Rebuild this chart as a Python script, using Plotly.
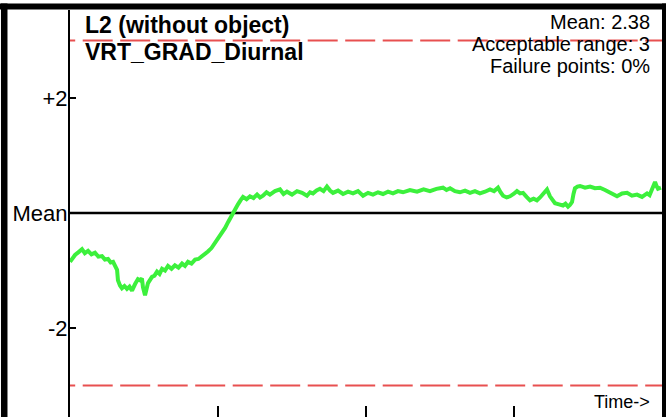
import plotly.graph_objects as go

# ---- data ----
time = [0.000, 0.034, 0.058, 0.081, 0.100, 0.122, 0.145, 0.169, 0.192, 0.216,
        0.236, 0.257, 0.275, 0.291, 0.318, 0.324, 0.338, 0.351, 0.368, 0.385,
        0.402, 0.419, 0.439, 0.459, 0.473, 0.486, 0.493, 0.507, 0.527, 0.554,
        0.571, 0.588, 0.605, 0.622, 0.642, 0.662, 0.686, 0.709, 0.733, 0.757,
        0.777, 0.797, 0.821, 0.845, 0.868, 0.892, 0.912, 0.932, 0.956, 0.980,
        1.004, 1.027, 1.048, 1.068, 1.085, 1.101, 1.118, 1.135, 1.152, 1.169,
        1.193, 1.216, 1.240, 1.264, 1.284, 1.304, 1.328, 1.351, 1.385, 1.419,
        1.443, 1.466, 1.500, 1.534, 1.568, 1.601, 1.622, 1.642, 1.666, 1.689,
        1.713, 1.736, 1.757, 1.777, 1.811, 1.845, 1.879, 1.912, 1.946, 1.980,
        2.014, 2.047, 2.081, 2.115, 2.149, 2.182, 2.216, 2.250, 2.297, 2.345,
        2.389, 2.432, 2.476, 2.520, 2.544, 2.568, 2.601, 2.635, 2.669, 2.703,
        2.736, 2.770, 2.804, 2.838, 2.865, 2.892, 2.909, 2.926, 2.950, 2.973,
        2.997, 3.020, 3.041, 3.061, 3.085, 3.108, 3.132, 3.155, 3.176, 3.196,
        3.210, 3.223, 3.243, 3.260, 3.277, 3.304, 3.331, 3.348, 3.365, 3.378,
        3.392, 3.402, 3.412, 3.429, 3.446, 3.480, 3.514, 3.547, 3.581, 3.615,
        3.649, 3.672, 3.696, 3.730, 3.764, 3.797, 3.831, 3.865, 3.899, 3.916,
        3.932, 3.943, 3.953, 3.963, 3.973, 3.993]

deviation = [-0.85, -0.73, -0.68, -0.63, -0.70, -0.66, -0.72, -0.69, -0.76, -0.75,
             -0.81, -0.80, -0.86, -0.85, -0.99, -1.17, -1.26, -1.31, -1.27, -1.32,
             -1.28, -1.35, -1.24, -1.15, -1.17, -1.14, -1.29, -1.43, -1.22, -1.11,
             -1.09, -1.02, -1.06, -0.97, -1.00, -0.92, -0.97, -0.91, -0.95, -0.88,
             -0.92, -0.85, -0.88, -0.81, -0.80, -0.75, -0.73, -0.67, -0.61, -0.52,
             -0.45, -0.34, -0.26, -0.16, -0.08, 0.02, 0.08, 0.15, 0.22, 0.28,
             0.24, 0.29, 0.26, 0.32, 0.27, 0.30, 0.36, 0.32, 0.38, 0.41,
             0.33, 0.37, 0.32, 0.38, 0.35, 0.30, 0.36, 0.34, 0.39, 0.42,
             0.38, 0.46, 0.39, 0.35, 0.39, 0.33, 0.37, 0.34, 0.38, 0.30,
             0.35, 0.32, 0.36, 0.33, 0.37, 0.34, 0.38, 0.36, 0.40, 0.37,
             0.41, 0.38, 0.42, 0.44, 0.40, 0.43, 0.38, 0.36, 0.39, 0.35,
             0.38, 0.34, 0.37, 0.41, 0.38, 0.44, 0.36, 0.30, 0.27, 0.29,
             0.33, 0.38, 0.34, 0.35, 0.28, 0.22, 0.25, 0.22, 0.27, 0.32,
             0.37, 0.41, 0.29, 0.22, 0.17, 0.15, 0.13, 0.16, 0.11, 0.14,
             0.19, 0.33, 0.43, 0.46, 0.47, 0.44, 0.46, 0.43, 0.44, 0.40,
             0.36, 0.33, 0.29, 0.34, 0.35, 0.30, 0.32, 0.28, 0.34, 0.31,
             0.40, 0.50, 0.54, 0.47, 0.42, 0.44]

ytick_vals = [2, 0, -2]
ytick_text = ["+2", "Mean", "-2"]
xtick_vals = [0, 1, 2, 3]
acceptable_range = 3
mean_value = 2.38
failure_pct = 0
title_lines = ["L2 (without object)", "VRT_GRAD_Diurnal"]
stat_lines = [f"Mean: {mean_value}", f"Acceptable range: {acceptable_range}",
              f"Failure points: {failure_pct}%"]

FONT = "Arial, Liberation Sans, sans-serif"

fig = go.Figure()
fig.add_trace(go.Scatter(x=time, y=deviation, mode="lines",
                         line=dict(color="#3cf03c", width=4),
                         hoverinfo="skip", showlegend=False))

shapes = []
# mean line
shapes.append(dict(type="line", xref="paper", x0=0, x1=1, yref="y", y0=0, y1=0,
                   line=dict(color="black", width=2.5), layer="below"))
# acceptable range lines
for yv in (acceptable_range, -acceptable_range):
    shapes.append(dict(type="line", xref="x", x0=-0.1676, x1=4.3, yref="y", y0=yv, y1=yv,
                       line=dict(color="#e85050", width=2, dash="30px,7.5px")))
# frame bars
shapes.append(dict(type="rect", xref="paper", yref="paper", x0=-0.1166, x1=-0.1056,
                   y0=-0.02, y1=1.016, fillcolor="black", line=dict(width=0)))
shapes.append(dict(type="rect", xref="paper", yref="paper", x0=-0.12, x1=1.01,
                   y0=1.0012, y1=1.016, fillcolor="black", line=dict(width=0)))
shapes.append(dict(type="rect", xref="paper", yref="paper", x0=1.0, x1=1.01,
                   y0=-0.02, y1=1.016, fillcolor="black", line=dict(width=0)))

annotations = [
    dict(text=f"<b>{title_lines[0]}</b>", x=0.022, y=0.963, xanchor="left", yanchor="middle",
         font=dict(size=23, color="black", family=FONT)),
    dict(text=f"<b>{title_lines[1]}</b>", x=0.022, y=0.8956, xanchor="left", yanchor="middle",
         font=dict(size=23, color="black", family=FONT)),
    dict(text=stat_lines[0], x=0.983, y=0.9693, xanchor="right", yanchor="middle",
         font=dict(size=20, color="black", family=FONT)),
    dict(text=stat_lines[1], x=0.983, y=0.9165, xanchor="right", yanchor="middle",
         font=dict(size=20, color="black", family=FONT)),
    dict(text=stat_lines[2], x=0.983, y=0.8612, xanchor="right", yanchor="middle",
         font=dict(size=20, color="black", family=FONT)),
    dict(text="Time->", x=0.983, y=(417 - 402) / 407, xanchor="right", yanchor="middle",
         font=dict(size=18, color="black", family=FONT)),
]
for a in annotations:
    a.update(xref="paper", yref="paper", showarrow=False)

fig.update_layout(
    width=666, height=417,
    margin=dict(l=70, r=4, t=10, b=0, pad=0),
    paper_bgcolor="white", plot_bgcolor="white",
    shapes=shapes, annotations=annotations,
    font=dict(family=FONT, color="black"),
    xaxis=dict(range=[0, 4], tickvals=xtick_vals, ticktext=["", "", "", ""],
               ticks="inside", ticklen=11, tickwidth=2, tickcolor="black",
               showgrid=False, zeroline=False, showline=False, fixedrange=True),
    yaxis=dict(range=[-3.548, 3.530], tickvals=ytick_vals, ticktext=ytick_text,
               ticks="inside", ticklen=6, tickwidth=2, tickcolor="black",
               tickfont=dict(size=22, color="black", family=FONT),
               ticklabelstandoff=-4,
               showgrid=False, zeroline=False, showline=True, linecolor="black",
               linewidth=2, fixedrange=True),
    showlegend=False,
)

fig.write_html("out.html", config={"displayModeBar": False},
               post_script="document.body.style.margin='0';document.body.style.overflow='hidden';")
